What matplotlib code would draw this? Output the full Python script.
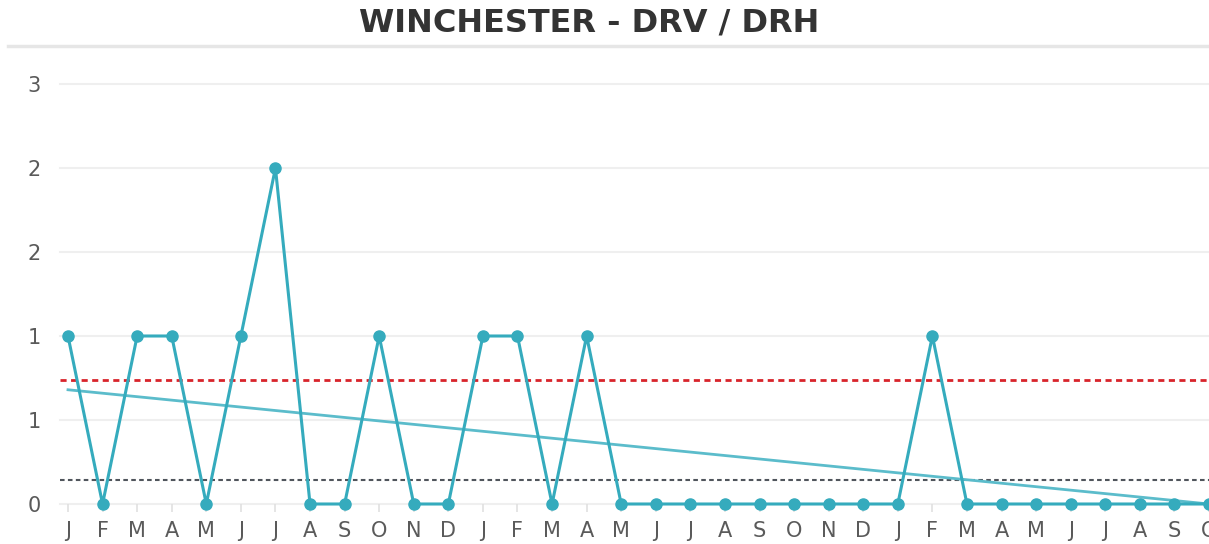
import matplotlib
matplotlib.use("Agg")
import matplotlib.pyplot as plt
from matplotlib.lines import Line2D

plt.rcParams['font.family'] = ['DejaVu Sans']

# chart data
months = ['J', 'F', 'M', 'A', 'M', 'J', 'J', 'A', 'S', 'O', 'N', 'D',
          'J', 'F', 'M', 'A', 'M', 'J', 'J', 'A', 'S', 'O', 'N', 'D',
          'J', 'F', 'M', 'A', 'M', 'J', 'J', 'A', 'S', 'O']
values = [1, 0, 1, 1, 0, 1, 2, 0, 0, 1, 0, 0,
          1, 1, 0, 1, 0, 0, 0, 0, 0, 0, 0, 0,
          0, 1, 0, 0, 0, 0, 0, 0, 0, 0]
trend_ends = [0.68, 0.0]
upper_limit = 0.74
lower_limit = 0.143
yticks = [0, 0.5, 1.0, 1.5, 2.0, 2.5]
ytick_labels = ['0', '1', '1', '2', '2', '3']
title = 'WINCHESTER - DRV / DRH'

W, H = 1209, 544
fig = plt.figure(figsize=(W / 100, H / 100), dpi=100)

# axes placed in pixel terms: y=0 at 504px, y=1 at 336px; x index 0 at 68px, step 34.6px
y0px, ypu = 504, 168
ylo, yhi = 0.0, 2.6
bottom_px = y0px - ylo * ypu
top_px = y0px - yhi * ypu
x0px, step = 68, 34.6
left_px = 60
xlo = (left_px - x0px) / step
xhi = (W - x0px) / step
ax = fig.add_axes([left_px / W, (H - bottom_px) / H, (W - left_px) / W, (bottom_px - top_px) / H])
ax.set_xlim(xlo, xhi)
ax.set_ylim(ylo, yhi)

x = list(range(len(values)))
teal = '#35abbd'

# grid
for t in yticks:
    ax.axhline(t, color='#efefef', lw=1.5, zorder=0, clip_on=False)

# limits
ax.axhline(upper_limit, color='#d8242b', lw=2, ls=(0, (2.2, 1.6)), zorder=2)
ax.axhline(lower_limit, color='#50555c', lw=1.5, ls=(0, (2.2, 1.6)), zorder=2)

# trend
ax.plot([x[0], x[-1]], trend_ends, color='#5bbccb', lw=2, zorder=3, clip_on=False)

# series
ax.plot(x, values, color=teal, lw=2.2, marker='o', markersize=8, zorder=4, clip_on=False)

for s in ax.spines.values():
    s.set_visible(False)
ax.set_xticks(x)
ax.set_xticklabels(months, fontsize=15, color='#5a5a5a')
ax.set_yticks(yticks)
ax.set_yticklabels(ytick_labels, fontsize=15, color='#5a5a5a')
ax.tick_params(axis='y', length=0, pad=14)
ax.tick_params(axis='x', length=6, color='#e0e0e0', pad=6, width=1.2)

# title and separator
fig.text(589 / W, 1 - 23 / H, title, ha='center', va='center', fontsize=23,
         fontweight='bold', color='#333333')
fig.add_artist(Line2D([8 / W, 1], [1 - 46 / H, 1 - 46 / H], color='#e6e6e6', lw=2.5))

fig.savefig('out.png', dpi=100)
plt.close(fig)
